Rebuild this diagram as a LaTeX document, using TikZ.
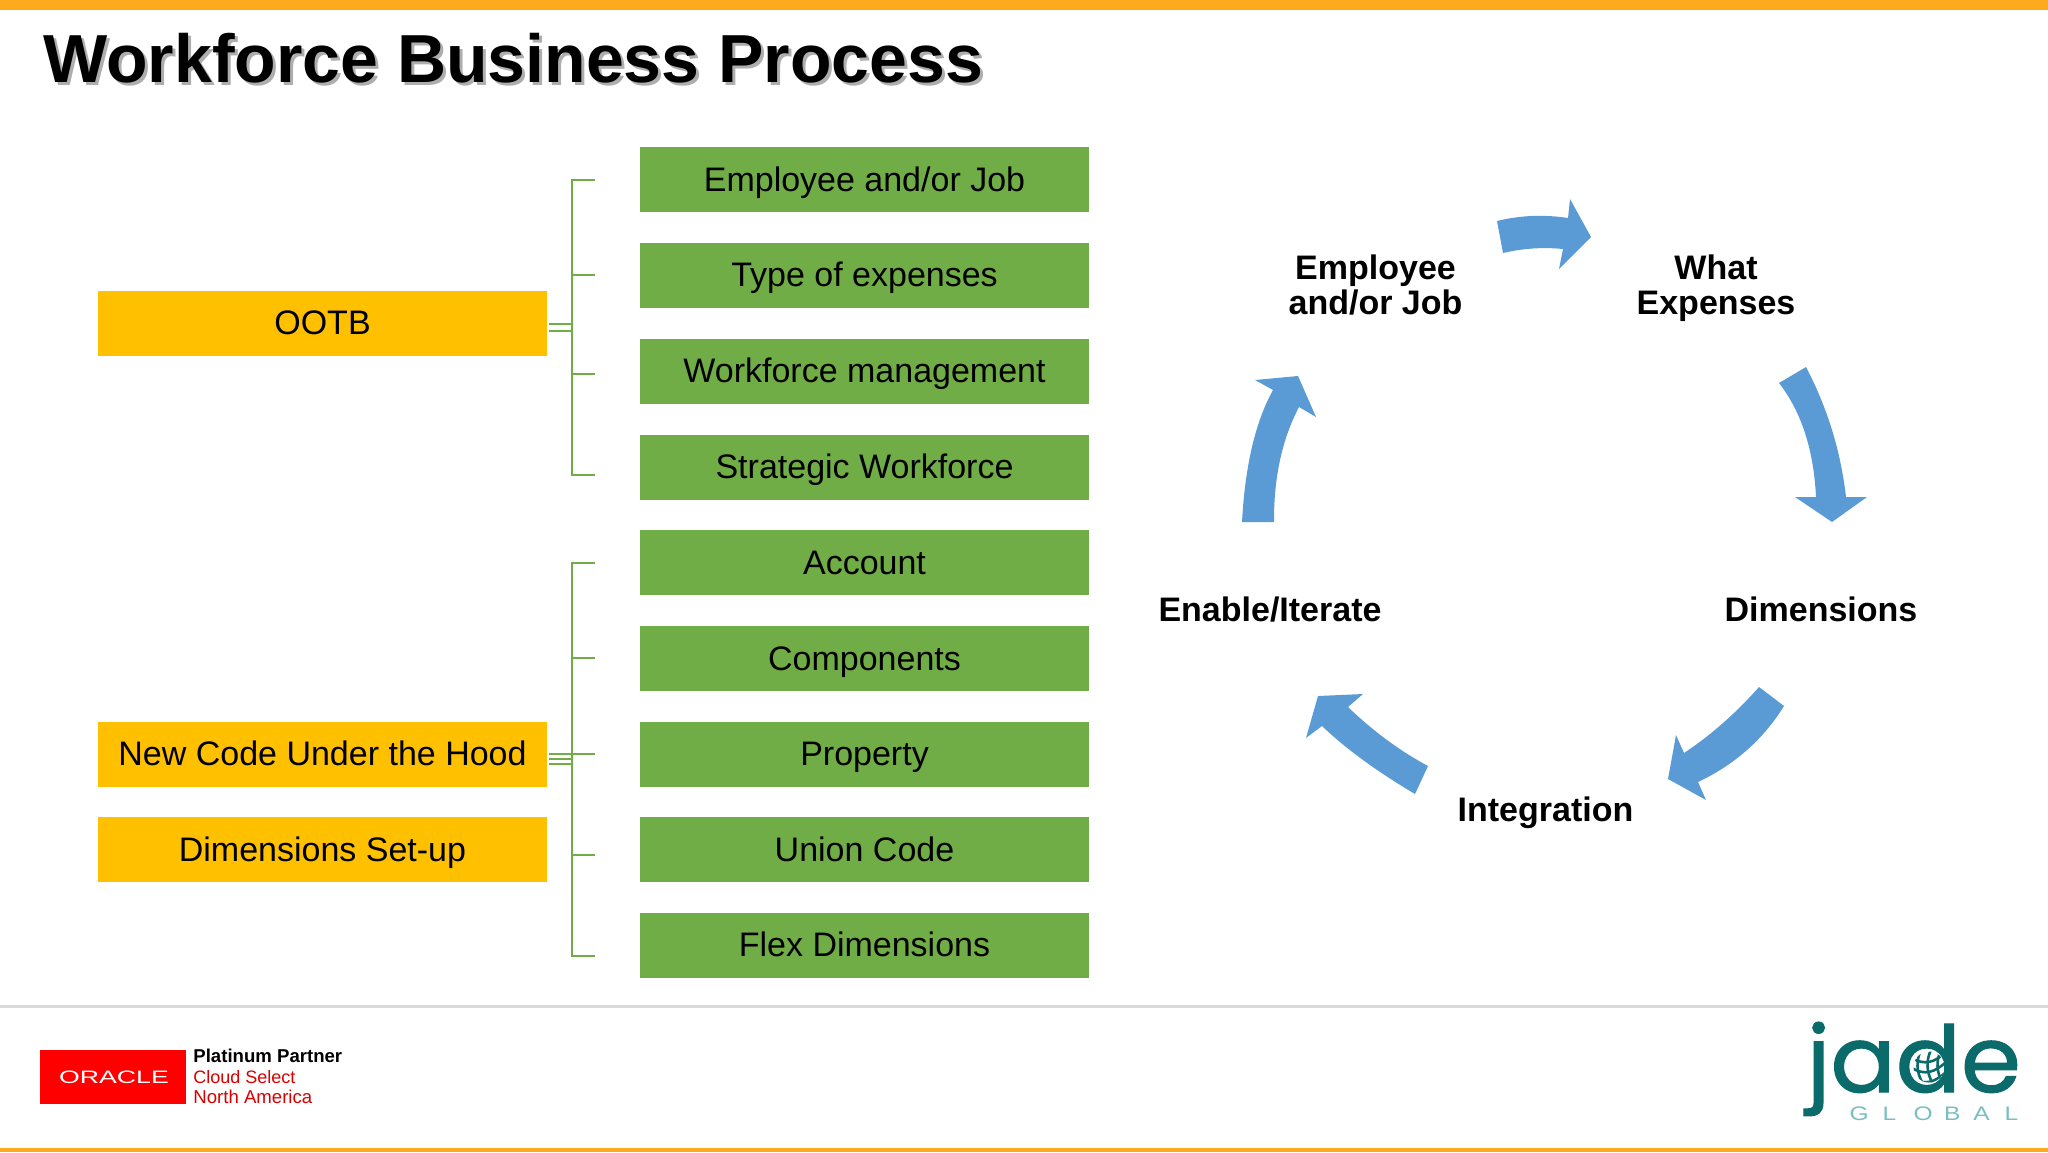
\documentclass[tikz,border=0pt]{standalone}
\usepackage{fontspec}
\setmainfont{Liberation Sans}
\newfontfamily\jadefont{Poppins}[FakeBold=1.2]
\definecolor{barorange}{HTML}{FFA91F}
\definecolor{boxgreen}{HTML}{70AD47}
\definecolor{boxyellow}{HTML}{FFC000}
\definecolor{arrowblue}{HTML}{5B9BD5}
\definecolor{rulegrey}{HTML}{D9D9D9}
\definecolor{jadeteal}{HTML}{0B6B6B}
\definecolor{jadelight}{HTML}{79BEC2}
\definecolor{oraclered}{HTML}{FF0000}
\tikzset{
  box/.style={minimum width=224.5pt,minimum height=32.5pt,inner sep=0pt,draw=none,
     text height=13pt,text depth=1.5pt,font=\fontsize{17}{20}\selectfont,text=black},
  gbox/.style={box,fill=boxgreen},
  ybox/.style={box,fill=boxyellow},
  brace/.style={draw=boxgreen,line width=1.2pt},
  bluearrow/.style={fill=arrowblue,draw=none},
  steplabel/.style={inner sep=0pt,align=center,font=\bfseries\fontsize{17}{17.5}\selectfont,text=black},
  logotext/.style={inner sep=0pt,anchor=base west},
  gridline/.style={draw=jadeteal,line width=1.3pt},
}
\begin{document}
\begin{tikzpicture}[x=0.5pt,y=-0.5pt]
\useasboundingbox (0,0) rectangle (2048,1152);
\fill[white] (0,0) rectangle (2048,1152);
% bars
\fill[barorange] (0,0) rectangle (2048,10);
\fill[barorange] (0,1148) rectangle (2048,1152);
\fill[rulegrey] (0,1005) rectangle (2048,1008);
% title
\node[anchor=base west,inner sep=0pt,text=black!45,opacity=.7,font=\bfseries\fontsize{34}{40}\selectfont] (titleshadow) at (46,85) {Workforce Business Process};
\node[anchor=base west,inner sep=0pt,text=black,font=\bfseries\fontsize{34}{40}\selectfont] (title) at (43,82) {Workforce Business Process};
% yellow boxes
\node[ybox] (ootb) at (322.5,323) {OOTB};
\node[ybox] (newcode) at (322.5,754) {New Code Under the Hood};
\node[ybox] (dimsetup) at (322.5,849.5) {Dimensions Set-up};
% green boxes
\node[gbox] (g1) at (864.5,179.5) {Employee and/or Job};
\node[gbox] (g2) at (864.5,275) {Type of expenses};
\node[gbox] (g3) at (864.5,371) {Workforce management};
\node[gbox] (g4) at (864.5,467) {Strategic Workforce};
\node[gbox] (g5) at (864.5,562.5) {Account};
\node[gbox] (g6) at (864.5,658.5) {Components};
\node[gbox] (g7) at (864.5,754) {Property};
\node[gbox] (g8) at (864.5,849.5) {Union Code};
\node[gbox] (g9) at (864.5,945) {Flex Dimensions};
% upper bracket
\coordinate (ua) at (595,180); \coordinate (ub) at (595,275);
\coordinate (uc) at (595,374); \coordinate (ud) at (595,475);
\coordinate (uA) at (572,180); \coordinate (uB) at (572,275);
\coordinate (uC) at (572,374); \coordinate (uD) at (572,475);
\draw[brace] (ua) -- (uA) -- (uD) -- (ud);
\draw[brace] (uB) -- (ub);
\draw[brace] (uC) -- (uc);
\coordinate (ue) at (549,324); \coordinate (uE) at (572,324);
\coordinate (uf) at (549,331); \coordinate (uF) at (572,331);
\draw[brace] (ue) -- (uE);
\draw[brace] (uf) -- (uF);
% lower bracket
\coordinate (la) at (595,563); \coordinate (lb) at (595,658);
\coordinate (lc) at (595,754); \coordinate (ld) at (595,855); \coordinate (le) at (595,956);
\coordinate (lA) at (572,563); \coordinate (lB) at (572,658);
\coordinate (lC) at (572,754); \coordinate (lD) at (572,855); \coordinate (lE) at (572,956);
\draw[brace] (la) -- (lA) -- (lE) -- (le);
\draw[brace] (lB) -- (lb);
\draw[brace] (lC) -- (lc);
\draw[brace] (lD) -- (ld);
\coordinate (lf) at (549,754); \coordinate (lg) at (549,759); \coordinate (lh) at (549,764);
\coordinate (lG) at (572,759); \coordinate (lH) at (572,764);
\draw[brace] (lf) -- (lC);
\draw[brace] (lg) -- (lG);
\draw[brace] (lh) -- (lH);
% cycle arrows
\fill[bluearrow] (1497,221) .. controls (1520,215.3) and (1543.7,214.3) .. (1568,218) -- (1570,199) -- (1591,237) -- (1559,269) -- (1563,249) .. controls (1543,247) and (1523,248.3) .. (1503,253) -- cycle;
\fill[bluearrow] (1779,383) -- (1806,367) .. controls (1827.3,407.7) and (1840.7,451) .. (1846,497) -- (1867,497) -- (1832,522) -- (1795,497) -- (1816,497) .. controls (1813.7,449.7) and (1801.3,411.7) .. (1779,383) -- cycle;
\fill[bluearrow] (1759,687) -- (1784,706) .. controls (1763.3,739.3) and (1734.7,764.7) .. (1698,782) -- (1706,800) -- (1668,779) -- (1676,735) -- (1684,753) .. controls (1711,735) and (1736,713) .. (1759,687) -- cycle;
\fill[bluearrow] (1428,766) -- (1415,794) .. controls (1376.7,771.3) and (1345.7,748.7) .. (1322,726) -- (1306,738) -- (1318,696) -- (1363,694) -- (1348,707) .. controls (1373.3,731.3) and (1400,751) .. (1428,766) -- cycle;
\fill[bluearrow] (1242,522) -- (1274,522) .. controls (1273.7,477.7) and (1282,439.3) .. (1299,407) -- (1316,417) -- (1298,376) -- (1255,380) -- (1273,390) .. controls (1255.3,422) and (1245,466) .. (1242,522) -- cycle;
% step labels
\node[steplabel] (s1) at (1375.5,285.5) {Employee\\and/or Job};
\node[steplabel] (s2) at (1716,288.5) {What\\Expenses};
\node[steplabel] (s3) at (1821,609) {Dimensions};
\node[steplabel] (s4) at (1270,609.5) {Enable/Iterate};
\node[steplabel] (s5) at (1545.5,812.5) {Integration};
% oracle logo
\node[fill=oraclered,minimum width=73pt,minimum height=27pt,inner sep=0pt] (orbox) at (113,1077) {};
\node[inner sep=0pt,text=white,xscale=1.48,transform shape,font=\fontsize{9}{10}\selectfont] (ortext) at (114,1077.5) {ORACLE};
\node[logotext,text=black,font=\bfseries\fontsize{9.3}{10}\selectfont] (or1) at (193,1062) {Platinum Partner};
\node[logotext,text=oraclered!85!black,font=\fontsize{9}{10}\selectfont] (or2) at (193,1083) {Cloud Select};
\node[logotext,text=oraclered!85!black,font=\fontsize{9.3}{10}\selectfont] (or3) at (193,1103) {North America};
% jade logo
\node[anchor=base west,inner sep=0pt,text=jadeteal,xscale=1.05,transform shape,font=\jadefont\fontsize{46}{50}\selectfont] (jade) at (1806,1092) {jade};
\begin{scope}
\clip (1929,1067) circle (15.5);
\fill[white] (1929,1067) circle (15.5);
\draw[gridline] (1912,1058) .. controls (1925,1066) and (1935,1062) .. (1946,1052);
\draw[gridline] (1912,1068) .. controls (1925,1076) and (1935,1072) .. (1946,1062);
\draw[gridline] (1912,1078) .. controls (1925,1086) and (1935,1082) .. (1946,1072);
\draw[gridline] (1921,1050) .. controls (1916,1060) and (1916,1072) .. (1923,1084);
\draw[gridline] (1931,1050) .. controls (1926,1060) and (1926,1072) .. (1933,1084);
\draw[gridline] (1941,1050) .. controls (1936,1060) and (1936,1072) .. (1943,1084);
\end{scope}
\node[anchor=base west,inner sep=0pt,text=jadelight,xscale=1.25,transform shape,font=\fontsize{9.8}{11}\selectfont] (global) at (1849,1120) {G\kern 5.6pt L\kern 7pt O\kern 4.5pt B\kern 5.2pt A\kern 6pt L};
\end{tikzpicture}
\end{document}
